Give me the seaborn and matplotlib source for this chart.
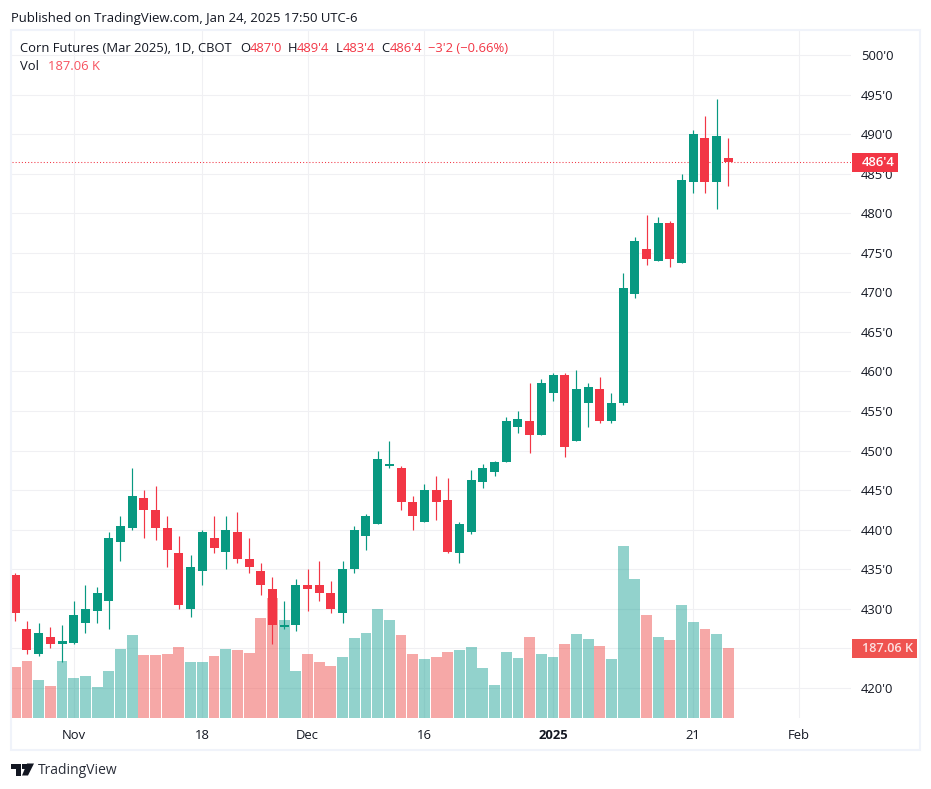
import numpy as np
import pandas as pd
import matplotlib
matplotlib.use('Agg')
import matplotlib.pyplot as plt
from matplotlib.patches import Rectangle, Polygon
import seaborn as sns

W, H = 931, 789

# candles in cents per bushel (Oct 25 2024 .. Jan 24 2025)
opens = [434.25, 427.5, 424.25, 426.5, 425.5, 425.75, 428.25, 429.75, 431, 438.5, 440.25,
         444, 442.5, 440.25, 437, 430, 434.75, 439, 437.25, 439.75, 436.25, 434.75,
         432.5, 427.75, 428, 433, 433, 432, 429.5, 435, 439.25, 440.75,
         448, 447.75, 443.5, 441, 445, 443.75, 437, 439.75, 446, 447.25,
         448.5, 453, 453.75, 452, 457.25, 459.5, 451.25, 456, 457.75, 453.75,
         456, 469.75, 475.5, 474, 478.75, 473.75, 484, 489.5, 484, 487]
closes = [429.5, 424.75, 427, 425.5, 426, 429.25, 430, 432, 439, 440.5, 444.25,
          442.5, 440.25, 437.5, 430.5, 435.25, 439.75, 437.75, 440, 436.25, 435.25, 433,
          428, 428, 433, 432.5, 432, 430, 435, 440, 441.75, 449,
          448.25, 443.5, 441.75, 445, 443.5, 437.25, 440.75, 446.25, 447.75, 448.5,
          453.75, 454, 452, 458.5, 459.5, 450.5, 457.75, 458, 453.75, 456,
          470.5, 476.5, 474.25, 478.75, 474.25, 484.25, 490, 484, 489.75, 486.5]
highs = [434.5, 428.5, 428.25, 427.75, 428, 431, 433, 432.75, 439.75, 441.75, 447.75,
         445, 445.5, 441.75, 439.25, 436.75, 440, 441.75, 441.75, 442.25, 439, 435.75,
         434, 431, 433.75, 435, 436, 433.5, 436, 440.5, 442, 450,
         451.25, 448, 444.25, 445.75, 446.75, 446.5, 441, 447.5, 448.25, 448.75,
         454.25, 455, 458.5, 459, 459.75, 459.75, 460.25, 458.5, 459.25, 457.25,
         472.5, 477, 479.75, 479.5, 479, 485, 490.5, 492.25, 494.5, 489.5]
lows = [428.5, 424.25, 424, 425, 423.25, 425.5, 427, 428.25, 427.5, 436, 440,
        439, 438.75, 435.25, 430, 429, 433, 437, 435, 435.75, 434.5, 431.75,
        425.5, 427.5, 427.25, 429.75, 431, 429.5, 428.25, 434.5, 437.5, 440.75,
        447.75, 442.5, 440, 441, 441.25, 437, 435.75, 439.5, 445.25, 446.75,
        448.5, 452.25, 449.75, 452, 456.25, 449.25, 451.25, 453, 453.5, 453.5,
        455.75, 469.25, 473.5, 474, 473.25, 473.75, 482.5, 482.5, 480.5, 483.5]

# volume bar heights in thousands of contracts
volume = [136, 152, 102, 85, 152, 107, 112, 83, 126, 184, 222, 168, 168, 171, 190, 150, 150,
          166, 184, 182, 174, 267, 321, 262, 126, 171, 150, 139, 163, 214, 227, 291, 262, 222,
          171, 158, 163, 176, 182, 190, 134, 88, 176, 160, 216, 171, 163, 198, 224, 211, 192,
          158, 460, 371, 275, 216, 208, 302, 257, 238, 224, 187.06]

price_ticks = [420, 425, 430, 435, 440, 445, 450, 455, 460, 465, 470, 475, 480, 485, 490, 495, 500]
time_pos = [5, 16, 25, 35, 46, 58, 67]
time_labels = ['Nov', '18', 'Dec', '16', '2025', '21', 'Feb']
last_price = 486.5
last_volume = 187.06

UP = '#089981'
DOWN = '#F23645'
TEXT = '#131722'
FRAME = '#F0F3FA'
GRID = '#F0F0F3'
FS = 9.36

sns.set_style('white')
plt.rcParams['font.family'] = ['Open Sans', 'DejaVu Sans']

df = pd.DataFrame({'x': np.arange(len(opens)), 'open': opens, 'close': closes, 'high': highs,
                   'low': lows, 'volume': volume})
df['side'] = np.where(df['close'] < df['open'], 'down', 'up')


def fx(x):
    return x / W


def fy(y):
    return 1 - y / H


fig = plt.figure(figsize=(W / 100, H / 100), dpi=100, facecolor='white')

# plot area is 12..851 x 31..718 in image pixels
left, right, top, bottom = 12, 851, 31, 718
vol_ax = fig.add_axes([fx(left), fy(bottom), fx(right - left), (bottom - top) / H])

price_top = 500 + (55 - top) / 7.9125
price_bottom = 500 - (bottom - 55) / 7.9125
vol_max = last_volume / 70 * (bottom - top)


def to_vol(p):
    return (np.asarray(p) - price_bottom) / (price_top - price_bottom) * vol_max


# volume sits under the candles, grid sits under the volume
sns.barplot(data=df, x='x', y='volume', hue='side', hue_order=['up', 'down'],
            palette={'up': '#26A69A', 'down': '#EF5350'}, alpha=0.5, width=0.93, dodge=False,
            native_scale=True, legend=False, saturation=1, linewidth=0, ax=vol_ax)
vol_ax.set_xlim(-0.28, 71.49)
vol_ax.set_ylim(0, vol_max)
vol_ax.set_yticks(to_vol(price_ticks))
vol_ax.set_xticks(time_pos)
vol_ax.set_xticklabels(time_labels, fontsize=FS, color=TEXT)
vol_ax.set_yticklabels([])
vol_ax.tick_params(axis='both', length=0)
vol_ax.tick_params(axis='x', pad=8.2)
vol_ax.get_xticklabels()[4].set_fontweight('bold')
vol_ax.set_xlabel('')
vol_ax.set_ylabel('')
vol_ax.set_axisbelow(True)
vol_ax.grid(True, color=GRID, lw=0.8)
sns.despine(ax=vol_ax, left=True, bottom=True)

price_ax = vol_ax.twinx()
price_ax.patch.set_visible(False)
price_ax.set_ylim(price_bottom, price_top)
price_ax.set_yticks(price_ticks)
# 425'0 is covered by the volume tag in the original
price_ax.set_yticklabels([f"{p}'0" if p != 425 else '' for p in price_ticks], fontsize=FS, color=TEXT)
price_ax.tick_params(axis='y', length=0, pad=7)
price_ax.grid(False)
sns.despine(ax=price_ax, left=True, bottom=True, right=True)

colors = np.where(df['side'] == 'up', UP, DOWN)
price_ax.vlines(df['x'], df['low'], df['high'], colors=colors, lw=0.85, zorder=2)
price_ax.bar(df['x'], df['close'] - df['open'], bottom=df['open'], width=0.77, color=colors,
             linewidth=0, zorder=3)
price_ax.axhline(last_price, color=DOWN, lw=0.75, ls=(0, (1, 2)), zorder=1)

# outer frame
fig.add_artist(Rectangle((fx(11), fy(749.5)), fx(909), 719.5 / H, transform=fig.transFigure,
                         fill=False, edgecolor=FRAME, lw=1.5))

# last price and last volume tags
fig.add_artist(Rectangle((fx(851.5), fy(172)), fx(46), 19 / H, transform=fig.transFigure,
                         facecolor=DOWN, edgecolor='none', zorder=5))
fig.text(fx(861.5), fy(162.5), "486'4", color='white', fontsize=FS, fontweight='semibold',
         va='center', ha='left', zorder=6)
fig.add_artist(Rectangle((fx(851.5), fy(658)), fx(65.5), 19 / H, transform=fig.transFigure,
                         facecolor='#EF5350', edgecolor='none', zorder=5))
fig.text(fx(861.5), fy(648.5), '187.06 K', color='#FDE3E3', fontsize=9.1, fontweight='semibold',
         va='center', ha='left', zorder=6)

# header texts
fig.text(fx(11), fy(18.5), 'Published on TradingView.com, Jan 24, 2025 17:50 UTC-6', color=TEXT,
         fontsize=9.46, va='center')
header = [(20, 'Corn Futures (Mar 2025), 1D, CBOT', TEXT), (240, 'O', TEXT), (249.5, "487'0", DOWN),
          (288, 'H', TEXT), (297, "489'4", DOWN), (335.5, 'L', TEXT), (342.5, "483'4", DOWN),
          (381, 'C', TEXT), (389.5, "486'4", DOWN), (428, "\u22123'2 (\u22120.66%)", DOWN)]
for x, s, c in header:
    fig.text(fx(x), fy(48), s, color=c, fontsize=FS, va='center')
fig.text(fx(20), fy(67), 'Vol', color=TEXT, fontsize=FS, va='center')
fig.text(fx(47.5), fy(67), '187.06 K', color='#F7525F', fontsize=FS, va='center')

# TradingView logo
logo = '#131722'
fig.add_artist(Polygon([(fx(11), fy(763.5)), (fx(21), fy(763.5)), (fx(21), fy(775.5)), (fx(16), fy(775.5)),
                        (fx(16), fy(768.5)), (fx(11), fy(768.5))], transform=fig.transFigure,
                       facecolor=logo, edgecolor='none'))
fig.add_artist(Polygon([(fx(27), fy(763.5)), (fx(34), fy(763.5)), (fx(28), fy(775.5)), (fx(22), fy(775.5))],
                       transform=fig.transFigure, facecolor=logo, edgecolor='none'))
fig.add_artist(Rectangle((fx(22), fy(768.5)), fx(4.5), 5 / H, transform=fig.transFigure,
                         facecolor=logo, edgecolor='none'))
fig.text(fx(38), fy(770), 'TradingView', color='#2A2E39', fontsize=10, va='center')

fig.savefig('out.png', dpi=100)
plt.close(fig)
